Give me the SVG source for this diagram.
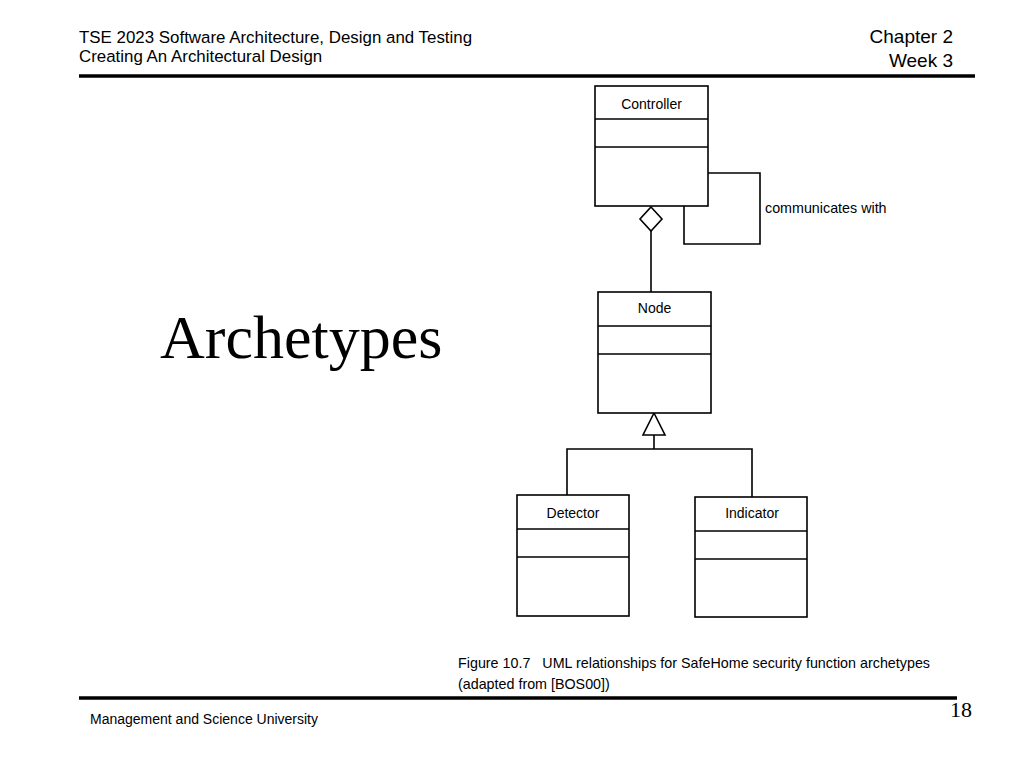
<svg xmlns="http://www.w3.org/2000/svg" width="1024" height="768" viewBox="0 0 1024 768">
<style>
.box{fill:#fff;stroke:#000;stroke-width:1.6}
.ln{fill:none;stroke:#000;stroke-width:1.6}
.cls{font-family:"Liberation Sans",Arial,sans-serif;font-size:14px;fill:#000;text-anchor:middle}
.hdr{font-family:"Liberation Sans",Arial,sans-serif;fill:#000}
.cap{font-family:"Liberation Sans",Arial,sans-serif;font-size:14.3px;fill:#000;white-space:pre}
</style>
<rect width="1024" height="768" fill="#fff"/>
<g id="header">
<text class="hdr" x="79" y="43" font-size="16.9">TSE 2023 Software Architecture, Design and Testing</text>
<text class="hdr" x="79" y="62" font-size="16.9">Creating An Architectural Design</text>
<text class="hdr" x="953" y="43" font-size="19" text-anchor="end">Chapter 2</text>
<text class="hdr" x="953" y="67" font-size="19" text-anchor="end">Week 3</text>
<line x1="79" y1="76" x2="975" y2="76" stroke="#000" stroke-width="3.5"/>
</g>
<g id="title">
<text x="160" y="358" font-family="'Liberation Serif','Times New Roman',serif" font-size="62">Archetypes</text>
</g>
<g id="connectors">
<polyline class="ln" points="708,173 760,173 760,244 684,244 684,206"/>
<polygon class="box" points="651,207 662,219 651,231 640,219"/>
<line class="ln" x1="651" y1="231" x2="651" y2="292"/>
<polygon class="box" points="654,413 665,435 643,435"/>
<line class="ln" x1="654" y1="435" x2="654" y2="449"/>
<polyline class="ln" points="567,495 567,449 752,449 752,497"/>
<text class="cap" x="765" y="213" font-size="14">communicates with</text>
</g>
<g id="controller">
<rect class="box" x="595" y="86" width="113" height="120"/>
<line class="ln" x1="595" y1="119" x2="708" y2="119"/>
<line class="ln" x1="595" y1="147" x2="708" y2="147"/>
<text class="cls" x="651.5" y="109">Controller</text>
</g>
<g id="node">
<rect class="box" x="598" y="292" width="113" height="121"/>
<line class="ln" x1="598" y1="326" x2="711" y2="326"/>
<line class="ln" x1="598" y1="354" x2="711" y2="354"/>
<text class="cls" x="654.5" y="313">Node</text>
</g>
<g id="detector">
<rect class="box" x="517" y="495" width="112" height="121"/>
<line class="ln" x1="517" y1="529" x2="629" y2="529"/>
<line class="ln" x1="517" y1="557" x2="629" y2="557"/>
<text class="cls" x="573" y="518">Detector</text>
</g>
<g id="indicator">
<rect class="box" x="695" y="497" width="112" height="120"/>
<line class="ln" x1="695" y1="531" x2="807" y2="531"/>
<line class="ln" x1="695" y1="559" x2="807" y2="559"/>
<text class="cls" x="752" y="518">Indicator</text>
</g>
<g id="caption">
<text class="cap" x="458" y="668" textLength="472" lengthAdjust="spacing">Figure 10.7   UML relationships for SafeHome security function archetypes</text>
<text class="cap" x="458" y="689">(adapted from [BOS00])</text>
</g>
<g id="footer">
<line x1="79" y1="698" x2="957" y2="698" stroke="#000" stroke-width="3.5"/>
<text class="hdr" x="90" y="724" font-size="14">Management and Science University</text>
<text x="950" y="717" font-family="'Liberation Serif','Times New Roman',serif" font-size="22">18</text>
</g>
</svg>
